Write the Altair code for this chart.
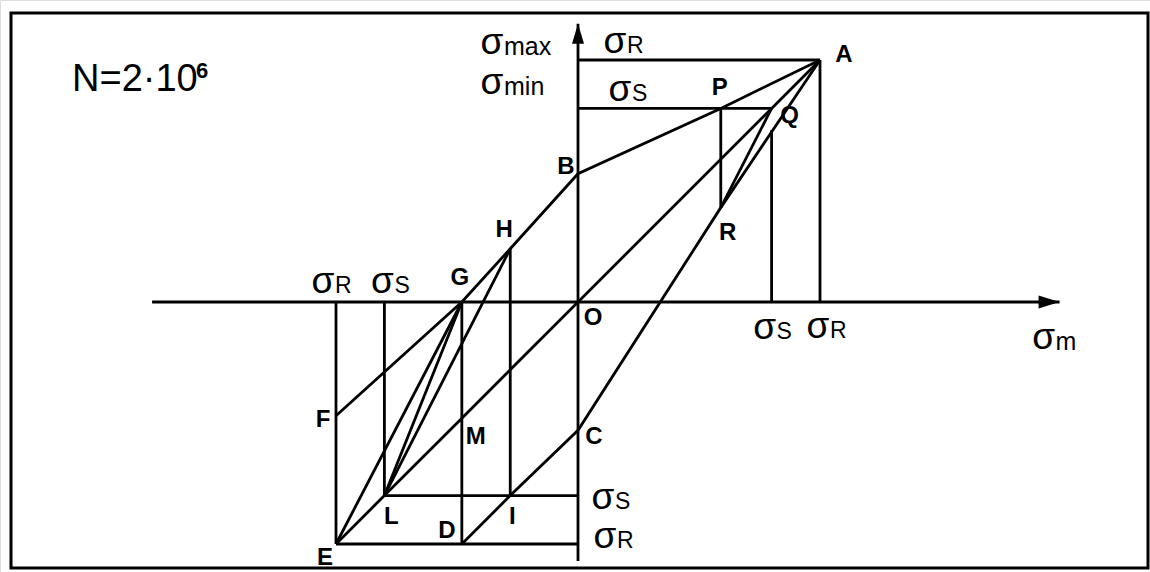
import altair as alt
import pandas as pd

# Characteristic stresses of the Smith fatigue diagram (units of σR = 100)
SIGMA_R = 100
SIGMA_S = 80

# Named points of the diagram (σm, σmax/σmin)
point_names = ["O", "A", "P", "Q", "B", "H", "G", "F", "R", "C", "I", "D", "M", "L", "E"]
point_x = [0, 100, 59, 80, 0, -28, -48, -100, 59, 0, -28, -48, -48, -80, -100]
point_y = [0, 100, 80, 80, 53, 22, 0, -47, 39, -53, -80, -100, -48, -80, -100]

# σmin curve value at σm = σS (top of the right-hand σS ordinate)
sigma_min_at_S = 71

# Extent of the two axes
axis_x = [-176, 199]
axis_y = [-107, 115]

pts = dict(zip(point_names, zip(point_x, point_y)))

# Polylines of the construction, given by point names or coordinates
segments = [
    ["F", "G", "H", "B", "P", "A"],                 # σmax curve
    ["D", "I", "C", "R", "A"],                      # σmin curve
    ["E", "L", "M", "O", "Q", "A"],                 # bisector σ = σm
    ["E", "G"], ["L", "G"], ["L", "H"], ["Q", "R"],
    ["G", "M", "D"], ["H", "I"], ["P", "R"],
    ["E", (-SIGMA_R, 0)], ["L", (-SIGMA_S, 0)],
    [(SIGMA_S, 0), (SIGMA_S, sigma_min_at_S)], [(SIGMA_R, 0), "A"],
    [(0, SIGMA_R), "A"], [(0, SIGMA_S), "Q"],
    ["L", (0, -SIGMA_S)], ["E", (0, -SIGMA_R)],
    [(axis_x[0], 0), (axis_x[1], 0)],
    [(0, axis_y[0]), (0, axis_y[1])],
]

rows = []
for k, seg in enumerate(segments):
    for j, p in enumerate(seg):
        x, y = pts[p] if isinstance(p, str) else p
        rows.append({"seg": k, "ord": j, "x": x, "y": y})
lines_df = pd.DataFrame(rows)

# Layout: stress units -> pixels
W, H = 1150, 572
PX = 2.42
OX, OY = 578, 302
x_dom = [-OX / PX, (W - OX) / PX]
y_dom = [(OY - H) / PX, OY / PX]

xs = alt.Scale(domain=x_dom, nice=False, zero=False)
ys = alt.Scale(domain=y_dom, nice=False, zero=False)
X = lambda f: alt.X(f, type="quantitative", scale=xs, axis=None)
Y = lambda f: alt.Y(f, type="quantitative", scale=ys, axis=None)

FONT = "Liberation Sans"

lines = alt.Chart(lines_df).mark_line(color="black", strokeWidth=2.8).encode(
    x=X("x"), y=Y("y"), detail="seg:N", order="ord:Q"
)

# Arrow heads at the ends of the axes
arrow_x = alt.Chart(pd.DataFrame({"x": [axis_x[1]], "y": [0]})).mark_point(
    shape="M0,0L-4.2,-1.3L-4.2,1.3Z", size=100, filled=True, color="black", opacity=1
).encode(x=X("x"), y=Y("y"))
arrow_y = alt.Chart(pd.DataFrame({"x": [0], "y": [axis_y[1]]})).mark_point(
    shape="M0,0L1.2,4L-1.2,4Z", size=100, filled=True, color="black", opacity=1
).encode(x=X("x"), y=Y("y"))

# Point letters: (point, pixel offset x, pixel offset y)
letter_pos = [
    ("A", 24, -5), ("P", -1, -20), ("Q", 18, 8), ("B", -12, -7), ("H", -6, -19),
    ("G", -2, -24), ("R", 7, 25), ("O", 15, 16), ("C", 16, 7), ("M", 14, 19),
    ("F", -13, 4), ("L", 7, 21), ("D", -15, -13), ("I", 2, 21), ("E", -11, 14),
]
letters_df = pd.DataFrame([
    {"t": n, "x": pts[n][0] + dx / PX, "y": pts[n][1] - dy / PX} for n, dx, dy in letter_pos
])
letters = alt.Chart(letters_df).mark_text(
    font=FONT, fontSize=24, fontWeight="bold", color="black", align="center", baseline="middle"
).encode(x=X("x"), y=Y("y"), text="t:N")

# Stress symbols σ with subscript: (subscript, anchor σm, anchor σ, px dx, px dy, subscript size)
sigma_pos = [
    ("R", 0, SIGMA_R, 37, -18, 23),
    ("S", 0, SIGMA_S, 42, -18, 23),
    ("max", 0, axis_y[1], -86, 19, 25),
    ("min", 0, axis_y[1], -86, 59, 25),
    ("R", -SIGMA_R, 0, -13, -20, 23),
    ("S", -SIGMA_S, 0, -2, -20, 23),
    ("S", SIGMA_S, 0, -7, 26, 23),
    ("R", SIGMA_R, 0, -2, 25, 23),
    ("m", axis_x[1], 0, -16, 36, 25),
    ("S", 0, -SIGMA_S, 25, 2, 23),
    ("R", 0, -SIGMA_R, 27, -7, 23),
]
sig_rows, sub_rows = [], []
for sub, ax, ay, dx, dy, fs in sigma_pos:
    sig_rows.append({"t": "σ", "x": ax + dx / PX, "y": ay - dy / PX})
    sub_rows.append({"t": sub, "x": ax + (dx + 12) / PX, "y": ay - (dy + 4) / PX, "fs": fs})
sig = alt.Chart(pd.DataFrame(sig_rows)).mark_text(
    font=FONT, fontSize=37, color="black", align="center", baseline="middle"
).encode(x=X("x"), y=Y("y"), text="t:N")
subs = alt.Chart(pd.DataFrame(sub_rows)).mark_text(
    font=FONT, color="black", align="left", baseline="middle"
).encode(x=X("x"), y=Y("y"), text="t:N", size=alt.Size("fs:Q", scale=None))

one = pd.DataFrame({"a": [0]})
n_text = alt.Chart(one).mark_text(
    text="N=2·10", font=FONT, fontSize=38, color="black", align="left", baseline="middle"
).encode(x=alt.value(72), y=alt.value(80))
n_exp = alt.Chart(one).mark_text(
    text="6", font=FONT, fontSize=22, fontWeight="bold", color="black", align="left", baseline="middle"
).encode(x=alt.value(196), y=alt.value(71))

frame = alt.Chart(one).mark_rect(fillOpacity=0, stroke="black", strokeWidth=3).encode(
    x=alt.value(11), x2=alt.value(1148), y=alt.value(13), y2=alt.value(568)
)

chart = alt.layer(frame, lines, arrow_x, arrow_y, letters, sig, subs, n_text, n_exp).properties(
    width=W, height=H, padding=0, autosize=alt.AutoSizeParams(type="none")
).configure_view(stroke=None).configure(background="white")

chart.save("out.html", embed_options={"renderer": "svg", "actions": False})
